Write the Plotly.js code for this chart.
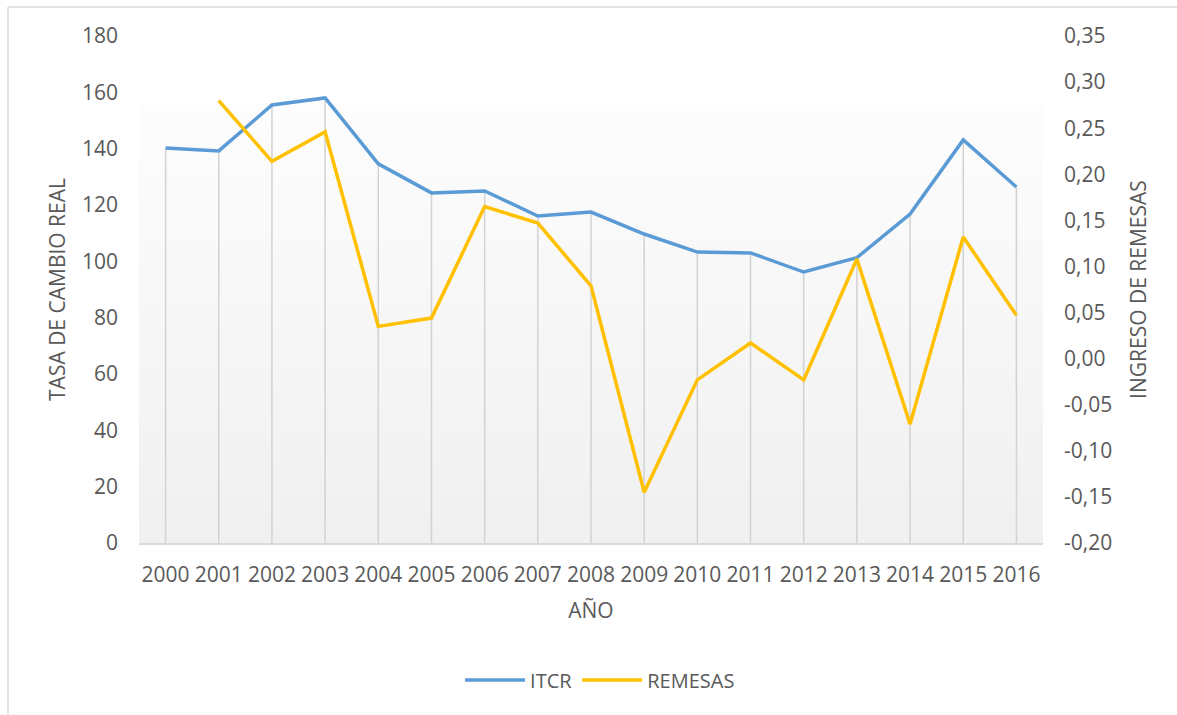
<!DOCTYPE html>
<html>
<head>
<meta charset="utf-8">
<script src="https://cdn.plot.ly/plotly-3.0.1.min.js"></script>
<style>
html,body{margin:0;padding:0;background:#fff;}
#chart{width:1177px;height:715px;}
</style>
</head>
<body>
<div id="chart"></div>
<script>
const years = ['2000','2001','2002','2003','2004','2005','2006','2007','2008','2009','2010','2011','2012','2013','2014','2015','2016'];
const itcr = [140.2, 139.2, 155.5, 158.0, 134.6, 124.3, 125.0, 116.1, 117.5, 109.7, 103.3, 103.0, 96.2, 101.3, 116.8, 143.1, 126.4];
const remesas = [null, 0.280, 0.214, 0.246, 0.035, 0.044, 0.165, 0.147, 0.079, -0.145, -0.023, 0.017, -0.023, 0.108, -0.071, 0.132, 0.047];
const leftTicks = [0,20,40,60,80,100,120,140,160,180];
const rightTickVals = [-0.20,-0.15,-0.10,-0.05,0,0.05,0.10,0.15,0.20,0.25,0.30,0.35];
const rightTickText = ['-0,20','-0,15','-0,10','-0,05','0,00','0,05','0,10','0,15','0,20','0,25','0,30','0,35'];

// drop lines built from the ITCR data
const dropX = [], dropY = [];
years.forEach((y,i)=>{ dropX.push(y,y,null); dropY.push(0,itcr[i],null); });

const font = "'Open Sans', 'Liberation Sans', sans-serif";
const txt = '#595959';

const grad = 'data:image/svg+xml;utf8,' + encodeURIComponent(
 '<svg xmlns="http://www.w3.org/2000/svg" width="100" height="100" preserveAspectRatio="none">' +
 '<defs><linearGradient id="g" x1="0" y1="0" x2="0" y2="1">' +
 '<stop offset="0" stop-color="#fdfdfd"/><stop offset="1" stop-color="#f0f0f0"/></linearGradient></defs>' +
 '<rect width="100" height="100" fill="url(#g)"/></svg>');

const traces = [
 {x: dropX, y: dropY, type:'scatter', mode:'lines', line:{color:'#d2d2d2', width:1.5},
  hoverinfo:'skip', showlegend:false, yaxis:'y', connectgaps:false},
 {x: years, y: itcr, name:'ITCR', type:'scatter', mode:'lines', line:{color:'#5B9BD5', width:3.5}, yaxis:'y'},
 {x: years, y: remesas, name:'REMESAS', type:'scatter', mode:'lines', line:{color:'#FFC000', width:3.5}, yaxis:'y2'}
];

const layout = {
 width:1177, height:715,
 margin:{l:139, r:134, t:36, b:172},
 paper_bgcolor:'#ffffff', plot_bgcolor:'rgba(0,0,0,0)',
 font:{family:font, color:txt, size:21},
 showlegend:true,
 legend:{orientation:'h', x:0.51, xanchor:'center', y:-0.27, yanchor:'middle',
   font:{size:20, color:txt}, itemwidth:60, tracegroupgap:0},
 xaxis:{type:'category', range:[-0.5,16.5], showgrid:false, zeroline:false,
   showline:true, linecolor:'#d9d9d9', linewidth:1.5, ticks:'', ticklabelstandoff:12,
   tickfont:{size:21, color:txt}, automargin:false,
   title:{text:'AÑO', font:{size:21, color:txt}, standoff:16}},
 yaxis:{range:[0,180], tickvals:leftTicks, showgrid:false, zeroline:false, showline:false,
   ticks:'', ticklabelstandoff:20, tickfont:{size:21, color:txt}, automargin:false,
   title:{text:'TASA DE CAMBIO REAL', font:{size:21, color:txt}, standoff:10}},
 yaxis2:{range:[-0.20,0.35], overlaying:'y', side:'right', tickvals:rightTickVals, ticktext:rightTickText,
   showgrid:false, zeroline:false, showline:false, ticks:'', ticklabelstandoff:20,
   tickfont:{size:21, color:txt}, automargin:false,
   title:{text:'INGRESO DE REMESAS', font:{size:21, color:txt}, standoff:20}},
 images:[{source:grad, xref:'paper', yref:'paper', x:0, y:0.868, sizex:1, sizey:0.868,
   xanchor:'left', yanchor:'top', sizing:'stretch', layer:'below'}],
 shapes:[
  {type:'line', xref:'paper', yref:'paper', x0:-0.1449, x1:1.2, y0:1.0572, y1:1.0572, line:{color:'#d9d9d9', width:1.5}},
  {type:'line', xref:'paper', yref:'paper', x0:-0.1449, x1:-0.1449, y0:1.0572, y1:-0.35, line:{color:'#d9d9d9', width:1.5}}
 ]
};

Plotly.newPlot('chart', traces, layout, {displayModeBar:false, responsive:false});
</script>
</body>
</html>
